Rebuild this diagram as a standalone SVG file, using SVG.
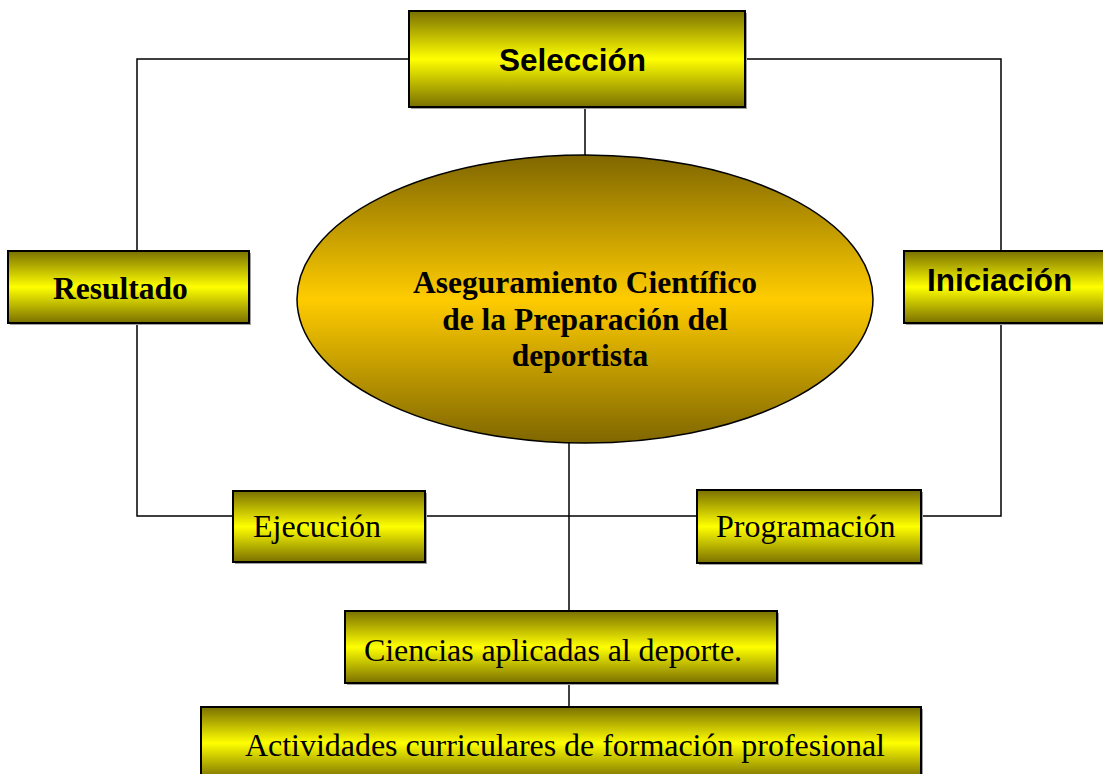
<svg xmlns="http://www.w3.org/2000/svg" width="1103" height="774" viewBox="0 0 1103 774">
<style>
.box{stroke:#000;stroke-width:2;fill:url(#gy)}
.sh{fill:#a0a0a0}
.ln{stroke:#000;stroke-width:1.5;fill:none}
.sb{font-family:"Liberation Sans",Arial,sans-serif;font-weight:bold;font-size:31.5px;fill:#000}
.tb{font-family:"Liberation Serif","Times New Roman",serif;font-weight:bold;font-size:31.5px;fill:#000}
.tr{font-family:"Liberation Serif","Times New Roman",serif;font-size:32px;fill:#000}
</style>
<defs>
<linearGradient id="gy" x1="0" y1="0" x2="0" y2="1">
<stop offset="0" stop-color="#7a7000"/>
<stop offset="0.5" stop-color="#ffff00"/>
<stop offset="1" stop-color="#7a7000"/>
</linearGradient>
<linearGradient id="go" x1="0" y1="0" x2="0" y2="1">
<stop offset="0" stop-color="#7f6600"/>
<stop offset="0.5" stop-color="#ffcc00"/>
<stop offset="1" stop-color="#7f6600"/>
</linearGradient>
</defs>
<rect width="1103" height="774" fill="#fff"/>
<g id="connectors">
<polyline class="ln" points="409,59 137,59 137,251"/>
<polyline class="ln" points="745,59 1001,59 1001,251"/>
<line class="ln" x1="585" y1="107" x2="585" y2="156"/>
<polyline class="ln" points="137,323 137,516 233,516"/>
<polyline class="ln" points="1001,323 1001,516 921,516"/>
<line class="ln" x1="425" y1="516" x2="697" y2="516"/>
<line class="ln" x1="569" y1="443" x2="569" y2="611"/>
<line class="ln" x1="569" y1="683" x2="569" y2="707"/>
</g>
<g id="seleccion">
<rect class="sh" x="411" y="13" width="336" height="96"/>
<rect class="box" x="409" y="11" width="336" height="96"/>
<text class="sb" x="499" y="71">Selección</text>
</g>
<g id="resultado">
<rect class="sh" x="10" y="253" width="241" height="72"/>
<rect class="box" x="8" y="251" width="241" height="72"/>
<text class="tb" x="53" y="299">Resultado</text>
</g>
<g id="iniciacion">
<rect class="sh" x="906" y="253" width="210" height="72"/>
<rect class="box" x="904" y="251" width="210" height="72"/>
<text class="sb" x="927" y="291">Iniciación</text>
</g>
<g id="aseguramiento">
<ellipse cx="585" cy="299" rx="288" ry="144" fill="url(#go)" stroke="#000" stroke-width="1.5"/>
<text class="tb" text-anchor="middle" x="585" y="293">Aseguramiento Científico</text>
<text class="tb" text-anchor="middle" x="585" y="330">de la Preparación del</text>
<text class="tb" text-anchor="middle" x="580" y="366">deportista</text>
</g>
<g id="ejecucion">
<rect class="sh" x="235" y="493" width="192" height="71"/>
<rect class="box" x="233" y="491" width="192" height="71"/>
<text class="tr" x="253" y="537">Ejecución</text>
</g>
<g id="programacion">
<rect class="sh" x="699" y="492" width="224" height="73"/>
<rect class="box" x="697" y="490" width="224" height="73"/>
<text class="tr" x="716" y="537">Programación</text>
</g>
<g id="ciencias">
<rect class="sh" x="347" y="613" width="432" height="72"/>
<rect class="box" x="345" y="611" width="432" height="72"/>
<text class="tr" x="364" y="661" textLength="378">Ciencias aplicadas al deporte.</text>
</g>
<g id="actividades">
<rect class="sh" x="203" y="709" width="720" height="72"/>
<rect class="box" x="201" y="707" width="720" height="72"/>
<text class="tr" x="245" y="756" textLength="640">Actividades curriculares de formación profesional</text>
</g>
</svg>
